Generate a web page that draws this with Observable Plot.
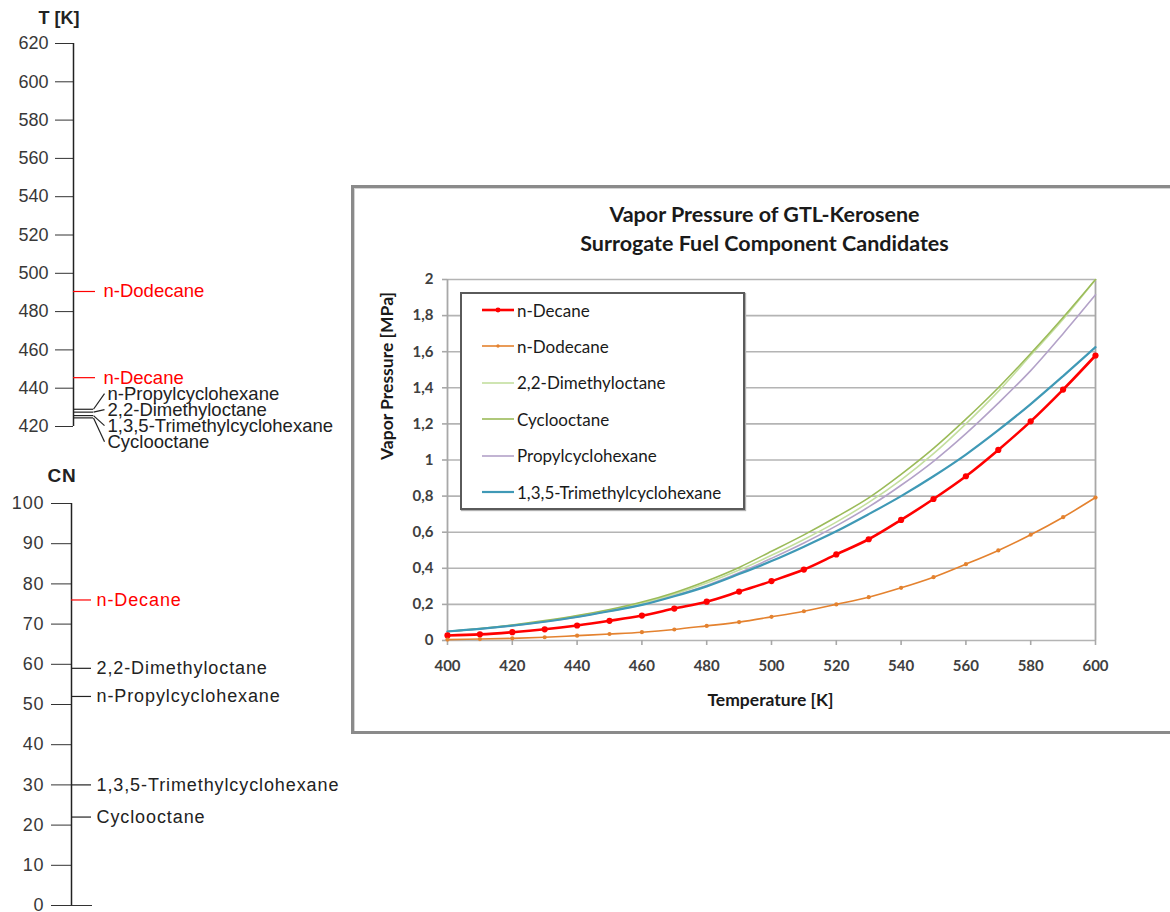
<!DOCTYPE html>
<html>
<head>
<meta charset="utf-8">
<script src="https://cdn.jsdelivr.net/npm/d3@7"></script>
<script src="https://cdn.jsdelivr.net/npm/@observablehq/plot@0.6"></script>
<style>
  html, body { margin: 0; padding: 0; background: #fff; overflow: hidden; }
  #root { position: relative; width: 1170px; height: 912px; overflow: hidden; background: #fff; }
  #frame { position: absolute; left: 351px; top: 185px; width: 840px; height: 549px; box-sizing: border-box;
           border: 3px solid #8a8a8a; box-shadow: inset 1px 1px 0 0 #d4d4d4; background: #fff; }
  #legend { position: absolute; left: 460px; top: 292px; width: 285px; height: 218px; box-sizing: border-box;
            border: 2px solid #5a5a5a; box-shadow: 1px 1px 1px #b0b0b0; background: #fff;
            font-family: Lato, "Open Sans", sans-serif; font-size: 17px; color: #1a1a1a; }
  .lrow { position: absolute; left: 18px; height: 20px; display: flex; align-items: center; }
  .lrow svg { margin-right: 1px; }
</style>
</head>
<body>
<div id="root">
  <div id="frame"></div>
</div>
<script>
// ---------------- DATA ----------------
// Left panel 1: normal boiling temperatures [K]
const tTicks = [420, 440, 460, 480, 500, 520, 540, 560, 580, 600, 620];
const tNames = ["n-Dodecane", "n-Decane", "n-Propylcyclohexane", "2,2-Dimethyloctane", "1,3,5-Trimethylcyclohexane", "Cyclooctane"];
const tValues = [490.5, 445.5, 429, 427.5, 425.7, 424.5];
const tColors = ["#ff0000", "#ff0000", "#222222", "#222222", "#222222", "#222222"];

// Left panel 2: cetane numbers
const cnTicks = [0, 10, 20, 30, 40, 50, 60, 70, 80, 90, 100];
const cnNames = ["n-Decane", "2,2-Dimethyloctane", "n-Propylcyclohexane", "1,3,5-Trimethylcyclohexane", "Cyclooctane"];
const cnValues = [76, 59, 52, 30, 22];
const cnColors = ["#ff0000", "#222222", "#222222", "#222222", "#222222"];

// Main chart: vapor pressure [MPa] vs temperature [K]
const temperatures = [400, 410, 420, 430, 440, 450, 460, 470, 480, 490, 500, 510, 520, 530, 540, 550, 560, 570, 580, 590, 600];
const nDecane = [0.028, 0.034, 0.046, 0.062, 0.083, 0.109, 0.138, 0.177, 0.215, 0.271, 0.329, 0.393, 0.477, 0.561, 0.668, 0.784, 0.910, 1.056, 1.214, 1.390, 1.579];
const nDodecane = [0.005, 0.008, 0.012, 0.018, 0.027, 0.036, 0.046, 0.061, 0.081, 0.102, 0.131, 0.162, 0.200, 0.240, 0.292, 0.351, 0.423, 0.499, 0.586, 0.683, 0.792];
const dimethyloctane = [0.050, 0.065, 0.084, 0.107, 0.135, 0.168, 0.207, 0.257, 0.318, 0.390, 0.472, 0.560, 0.656, 0.765, 0.890, 1.035, 1.200, 1.380, 1.580, 1.780, 2.000];
const cyclooctane = [0.050, 0.066, 0.086, 0.110, 0.138, 0.172, 0.213, 0.265, 0.330, 0.405, 0.494, 0.585, 0.684, 0.790, 0.920, 1.064, 1.226, 1.400, 1.590, 1.790, 2.000];
const propylcyclohexane = [0.050, 0.064, 0.082, 0.104, 0.130, 0.163, 0.198, 0.248, 0.305, 0.375, 0.455, 0.540, 0.635, 0.740, 0.860, 0.993, 1.146, 1.315, 1.495, 1.700, 1.915];
const trimethylcyclohexane = [0.050, 0.064, 0.082, 0.104, 0.130, 0.162, 0.197, 0.245, 0.300, 0.368, 0.440, 0.520, 0.605, 0.700, 0.800, 0.910, 1.030, 1.165, 1.310, 1.465, 1.625];

const seriesNames = ["n-Decane", "n-Dodecane", "2,2-Dimethyloctane", "Cyclooctane", "Propylcyclohexane", "1,3,5-Trimethylcyclohexane"];
const seriesData = [nDecane, nDodecane, dimethyloctane, cyclooctane, propylcyclohexane, trimethylcyclohexane];
const seriesColors = ["#ff0000", "#e4822f", "#c4df9f", "#9bbb59", "#b3a2c8", "#3f99b6"];
const seriesWidths = [2.6, 1.6, 1.6, 1.6, 1.6, 2.2];
const seriesMarker = [3.1, 2.1, 0, 0, 0, 0];

const xTicks = [400, 420, 440, 460, 480, 500, 520, 540, 560, 580, 600];
const yTicks = [0, 0.2, 0.4, 0.6, 0.8, 1, 1.2, 1.4, 1.6, 1.8, 2];

const titleLines = ["Vapor Pressure of GTL-Kerosene", "Surrogate Fuel Component Candidates"];

// ---------------- LAYOUT ----------------
const root = document.getElementById("root");
const leftFont = "'Liberation Sans', Arial, sans-serif";
const mainFont = "Lato, 'Open Sans', sans-serif";

function place(el, left, top) {
  el.style.position = "absolute";
  el.style.left = left + "px";
  el.style.top = top + "px";
  root.appendChild(el);
}

// label de-overlap: chain clusters centered on their mean, then push down
function spreadLabels(px, gap) {
  const idx = px.map((v, i) => i).sort((a, b) => px[a] - px[b]);
  const out = px.slice();
  let clusters = [];
  idx.forEach(i => {
    const last = clusters[clusters.length - 1];
    if (last && px[i] - px[last[last.length - 1]] < gap) last.push(i);
    else clusters.push([i]);
  });
  clusters.forEach(c => {
    const mean = d3.mean(c, i => px[i]);
    const top = mean - (c.length - 1) * gap / 2;
    c.forEach((i, j) => out[i] = top + j * gap);
  });
  let prev = -Infinity;
  idx.forEach(i => { out[i] = Math.max(out[i], prev + gap); prev = out[i]; });
  return out;
}

// ---------- Panel 1: T [K] ----------
{
  const W = 350, H = 460, mL = 73, mT = 43, mB = 34;
  const yPx = d3.scaleLinear([420, 620], [H - mB, mT]);
  const ideal = tValues.map(v => yPx(v));
  const spread = spreadLabels(ideal, 16);
  const rows = tNames.map((name, i) => {
    const moved = Math.abs(spread[i] - ideal[i]) > 0.5;
    return {
      name, T: tValues[i], labelT: yPx.invert(spread[i]), color: tColors[i],
      x2: moved ? 20 : 22, lx: moved ? 31 : 22, tx: moved ? 34 : 30
    };
  });
  const p = Plot.plot({
    width: W, height: H, marginLeft: mL, marginRight: 0, marginTop: mT, marginBottom: mB,
    x: {domain: [0, W - mL], axis: null},
    y: {domain: [420, 620]},
    style: {fontFamily: leftFont, background: "transparent", overflow: "visible", color: "#333"},
    marks: [
      Plot.axisY({ticks: tTicks, tickSize: 18, tickPadding: 7, fontSize: 18, fill: "#383838", stroke: "#333", label: null}),
      Plot.ruleX([0], {stroke: "#222", strokeWidth: 1.5}),
      Plot.ruleY(rows, {y: "T", x1: 0, x2: "x2", stroke: "color", strokeWidth: 1.2}),
      Plot.link(rows, {x1: "x2", y1: "T", x2: "lx", y2: "labelT", stroke: "color", strokeWidth: 1.2}),
      Plot.text(rows, {x: "tx", y: "labelT", text: "name", fill: "color", textAnchor: "start", fontSize: 18.5}),
      Plot.text(["T [K]"], {text: d => d, frameAnchor: "top-left", lineAnchor: "middle", dx: -35, dy: -25, textAnchor: "start", fontWeight: "bold", fontSize: 18, fill: "#222"})
    ]
  });
  place(p, 0, 0);
}

// ---------- Panel 2: CN ----------
{
  const W = 360, H = 452, mL = 71, mT = 43, mB = 7;
  const rows = cnNames.map((name, i) => ({name, cn: cnValues[i], color: cnColors[i]}));
  const p = Plot.plot({
    width: W, height: H, marginLeft: mL, marginRight: 0, marginTop: mT, marginBottom: mB,
    x: {domain: [0, W - mL], axis: null},
    y: {domain: [0, 100]},
    style: {fontFamily: leftFont, background: "transparent", overflow: "visible", color: "#333", letterSpacing: "0.9px"},
    marks: [
      Plot.axisY({ticks: cnTicks, tickSize: 20, tickPadding: 7, fontSize: 18, fill: "#383838", stroke: "#333", label: null}),
      Plot.ruleX([0], {stroke: "#222", strokeWidth: 1.5}),
      Plot.ruleY([0], {x1: 0, x2: 21, stroke: "#333"}),
      Plot.ruleY(rows, {y: "cn", x1: 0, x2: 20, stroke: "color", strokeWidth: 1.2}),
      Plot.text(rows, {x: 25, y: "cn", text: "name", fill: "color", textAnchor: "start", fontSize: 18}),
      Plot.text(["CN"], {text: d => d, frameAnchor: "top-left", lineAnchor: "middle", dx: -24, dy: -28, textAnchor: "start", fontWeight: "bold", fontSize: 19, fill: "#222"})
    ]
  });
  place(p, 0, 460);
}

// ---------- Main chart ----------
{
  const W = 815, H = 544;
  const table = seriesNames.flatMap((s, i) => temperatures.map((t, j) => ({series: s, t, p: seriesData[i][j]})));
  const lineMarks = seriesNames.map((s, i) =>
    Plot.line(table.filter(d => d.series === s), {x: "t", y: "p", stroke: seriesColors[i], strokeWidth: seriesWidths[i], curve: "catmull-rom"}));
  const dotMarks = seriesNames.map((s, i) => seriesMarker[i] > 0
    ? Plot.dot(table.filter(d => d.series === s), {x: "t", y: "p", r: seriesMarker[i], fill: seriesColors[i], stroke: "none"})
    : null).filter(Boolean);
  const p = Plot.plot({
    width: W, height: H, marginLeft: 92, marginRight: 75, marginTop: 91, marginBottom: 92,
    x: {domain: [400, 600]},
    y: {domain: [0, 2]},
    style: {fontFamily: mainFont, background: "transparent", overflow: "visible"},
    marks: [
      Plot.ruleY(yTicks, {stroke: "#b4b4b4", strokeWidth: 1.6}),
      Plot.ruleX([400, 600], {stroke: "#a8a8a8", strokeWidth: 1.8}),
      Plot.axisY({ticks: yTicks, tickSize: 5, tickPadding: 9, tickFormat: d => String(d).replace(".", ","),
                  fontSize: 15, fontWeight: "bold", fill: "#404040", stroke: "#a8a8a8", strokeWidth: 1.6, label: null}),
      Plot.axisX({ticks: xTicks, tickSize: 5, tickPadding: 15, tickFormat: d => String(d),
                  fontSize: 15, fontWeight: "bold", fill: "#404040", stroke: "#a8a8a8", strokeWidth: 1.6, label: null}),
      ...lineMarks,
      ...dotMarks,
      Plot.text([titleLines[0]], {text: d => d, frameAnchor: "top", lineAnchor: "middle", dx: -7, dy: -64, fontSize: 21.5, fontWeight: "bold", fill: "#1a1a1a"}),
      Plot.text([titleLines[1]], {text: d => d, frameAnchor: "top", lineAnchor: "middle", dx: -7, dy: -35, fontSize: 21.5, fontWeight: "bold", fill: "#1a1a1a"}),
      Plot.text(["Temperature [K]"], {text: d => d, frameAnchor: "bottom", lineAnchor: "middle", dx: -1, dy: 60, fontSize: 17.5, fontWeight: "bold", fill: "#1a1a1a"}),
      Plot.text(["Vapor Pressure [MPa]"], {text: d => d, frameAnchor: "left", lineAnchor: "middle", dx: -60, rotate: -90, fontSize: 17.5, fontWeight: "bold", fill: "#1a1a1a"})
    ]
  });
  place(p, 355, 188);

  // legend
  const lg = document.createElement("div");
  lg.id = "legend";
  seriesNames.forEach((s, i) => {
    const row = document.createElement("div");
    row.className = "lrow";
    row.style.top = (6 + i * 36.4) + "px";
    const svg = d3.create("svg").attr("width", 36).attr("height", 12);
    svg.append("line").attr("x1", 2).attr("x2", 34).attr("y1", 6).attr("y2", 6)
      .attr("stroke", seriesColors[i]).attr("stroke-width", seriesWidths[i]);
    if (seriesMarker[i] > 0) svg.append("circle").attr("cx", 18).attr("cy", 6).attr("r", seriesMarker[i] * 0.8).attr("fill", seriesColors[i]);
    row.appendChild(svg.node());
    const sp = document.createElement("span");
    sp.textContent = s;
    row.appendChild(sp);
    lg.appendChild(row);
  });
  root.appendChild(lg);
}
</script>
</body>
</html>
